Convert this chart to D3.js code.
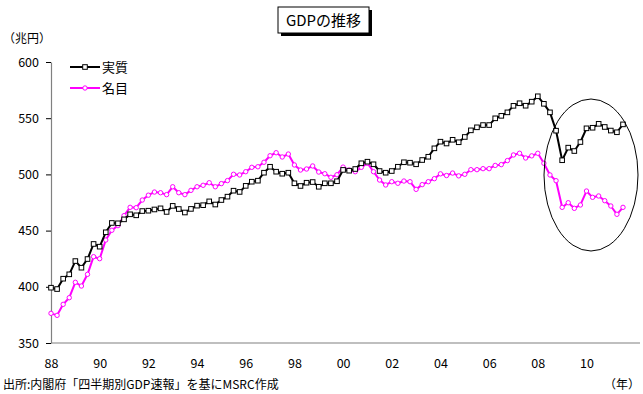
<!DOCTYPE html>
<html>
<head>
<meta charset="utf-8">
<script src="https://cdn.jsdelivr.net/npm/d3@7"></script>
<style>
  html, body { margin: 0; padding: 0; background: #fff; }
  svg { display: block; }
  text { font-family: "Noto Sans CJK JP", "Noto Sans", sans-serif; fill: #000; }
</style>
</head>
<body>
<svg id="chart" width="643" height="394"></svg>
<script>
// Quarterly GDP, 1988 Q1 – 2011 Q3 (trillion yen, seasonally adjusted annual rate)
const years = d3.range(1988, 2012);
const quarters = years.flatMap(y => [1, 2, 3, 4].map(q => `${y}Q${q}`)).slice(0, 95);

const realGDP = [
  399.2, 398.0, 407.2, 411.1, 422.9, 417.0, 424.7, 438.1,
  435.7, 448.5, 456.8, 456.5, 460.0, 464.5, 463.6, 467.4,
  467.7, 468.8, 469.8, 466.6, 472.0, 469.2, 466.1, 469.3,
  472.2, 472.6, 476.0, 473.2, 477.2, 480.2, 485.5, 484.4,
  489.8, 493.5, 494.4, 501.5, 506.8, 502.4, 500.6, 501.5,
  492.1, 489.7, 492.6, 493.2, 489.0, 492.1, 492.1, 493.9,
  504.0, 503.3, 504.8, 509.9, 511.3, 509.0, 503.0, 501.5,
  503.0, 506.8, 510.8, 510.4, 509.0, 512.8, 515.7, 523.2,
  529.1, 527.5, 530.8, 528.6, 533.3, 539.2, 541.9, 543.9,
  543.9, 549.9, 552.1, 555.2, 561.0, 563.3, 561.1, 564.7,
  569.5, 562.8, 555.2, 538.9, 512.6, 523.8, 520.8, 528.8,
  541.0, 541.5, 545.0, 542.2, 539.0, 537.5, 544.5
];

const nominalGDP = [
  376.4, 374.6, 384.4, 390.3, 404.0, 400.7, 411.1, 426.8,
  425.0, 441.6, 450.3, 454.4, 463.3, 470.7, 470.4, 477.2,
  481.5, 484.3, 483.7, 482.0, 489.0, 483.7, 482.0, 485.8,
  489.0, 490.3, 492.6, 489.0, 491.8, 494.5, 500.1, 499.5,
  502.4, 506.3, 506.8, 510.8, 516.6, 519.3, 515.5, 518.1,
  508.4, 503.9, 504.8, 507.5, 502.1, 500.6, 497.4, 499.7,
  506.5, 503.9, 502.4, 506.3, 509.9, 502.4, 495.0, 490.6,
  493.5, 492.1, 494.1, 493.5, 486.7, 490.9, 493.5, 496.2,
  500.5, 499.0, 501.2, 498.7, 500.1, 504.2, 504.2, 505.1,
  505.1, 508.0, 508.7, 512.3, 517.3, 518.8, 514.6, 516.5,
  518.8, 509.9, 499.5, 494.4, 470.7, 474.8, 469.8, 472.8,
  485.2, 479.6, 480.8, 476.6, 471.9, 464.5, 470.7
];

// Year labels placed on the first quarter of every second year
const xTickQuarters = ["1988Q1", "1990Q1", "1992Q1", "1994Q1", "1996Q1", "1998Q1",
                       "2000Q1", "2002Q1", "2004Q1", "2006Q1", "2008Q1", "2010Q1"];
const xTickLabels = ["88", "90", "92", "94", "96", "98", "00", "02", "04", "06", "08", "10"];
const yTicks = [350, 400, 450, 500, 550, 600];

const seriesNames = ["実質", "名目"];
const seriesColors = ["#000000", "#ff00ff"];

const svg = d3.select("#chart");

const x = d3.scalePoint().domain(quarters).range([51, 623]);
const y = d3.scaleLinear().domain([350, 600]).range([343, 62]);

// Title box with drop shadow
const title = svg.append("g");
title.append("rect").attr("x", 281).attr("y", 10).attr("width", 91).attr("height", 26).attr("fill", "#000");
title.append("rect").attr("x", 278).attr("y", 7).attr("width", 91).attr("height", 26)
  .attr("fill", "#fff").attr("stroke", "#000").attr("stroke-width", 1);
title.append("text").attr("x", 323.5).attr("y", 26).attr("text-anchor", "middle")
  .attr("font-size", 15).text("GDPの推移");

// Unit label
svg.append("text").attr("x", 3).attr("y", 43).attr("font-size", 12).text("（兆円）");

// Y axis
const yAxis = svg.append("g").attr("transform", "translate(51,0)")
  .call(d3.axisLeft(y).tickValues(yTicks).tickSize(5).tickSizeOuter(0).tickPadding(7));
yAxis.select(".domain").attr("stroke", "#808080").attr("stroke-width", 1.2);
yAxis.selectAll(".tick line").attr("stroke", "#000");
yAxis.selectAll(".tick text").attr("font-size", 12.5).attr("font-family", "'Noto Sans CJK JP', sans-serif");

// X axis
const xAxis = svg.append("g").attr("transform", "translate(0,343)")
  .call(d3.axisBottom(x).tickValues(xTickQuarters)
    .tickFormat(q => xTickLabels[xTickQuarters.indexOf(q)])
    .tickSize(0).tickPadding(16));
xAxis.select(".domain").attr("d", "M51,0H640").attr("stroke", "#808080").attr("stroke-width", 1.2);
xAxis.selectAll(".tick text").attr("font-size", 12.5).attr("font-family", "'Noto Sans CJK JP', sans-serif");

// Series lines and markers
const lineGen = d3.line().x((d, i) => x(quarters[i])).y(d => y(d));

function drawSeries(values, color, shape) {
  svg.append("path").datum(values)
    .attr("d", lineGen).attr("fill", "none")
    .attr("stroke", color).attr("stroke-width", 2).attr("stroke-linejoin", "round");
  const g = svg.append("g");
  if (shape === "square") {
    g.selectAll("rect").data(values).join("rect")
      .attr("x", (d, i) => x(quarters[i]) - 2.3).attr("y", d => y(d) - 2.3)
      .attr("width", 4.6).attr("height", 4.6)
      .attr("fill", "#fff").attr("stroke", color).attr("stroke-width", 1);
  } else {
    g.selectAll("circle").data(values).join("circle")
      .attr("cx", (d, i) => x(quarters[i])).attr("cy", d => y(d)).attr("r", 2.2)
      .attr("fill", "#fff").attr("stroke", color).attr("stroke-width", 1);
  }
}
drawSeries(nominalGDP, seriesColors[1], "circle");
drawSeries(realGDP, seriesColors[0], "square");

// Highlight ellipse around the post-2008 period
svg.append("ellipse").attr("cx", 591).attr("cy", 175).attr("rx", 47).attr("ry", 76)
  .attr("fill", "none").attr("stroke", "#000").attr("stroke-width", 1);

// Legend
const legend = svg.append("g");
seriesNames.forEach((name, k) => {
  const ly = 67 + k * 21;
  legend.append("line").attr("x1", 70).attr("x2", 100).attr("y1", ly).attr("y2", ly)
    .attr("stroke", seriesColors[k]).attr("stroke-width", 2);
  if (k === 0) {
    legend.append("rect").attr("x", 82.7).attr("y", ly - 2.3).attr("width", 4.6).attr("height", 4.6)
      .attr("fill", "#fff").attr("stroke", seriesColors[k]);
  } else {
    legend.append("circle").attr("cx", 85).attr("cy", ly).attr("r", 2.2)
      .attr("fill", "#fff").attr("stroke", seriesColors[k]);
  }
  legend.append("text").attr("x", 102).attr("y", ly + 5).attr("font-size", 13).text(name);
});

// Source note and axis unit
svg.append("text").attr("x", 3).attr("y", 389).attr("font-size", 12)
  .text("出所:内閣府「四半期別GDP速報」を基にMSRC作成");
svg.append("text").attr("x", 640).attr("y", 389).attr("font-size", 12)
  .attr("text-anchor", "end").text("（年）");
</script>
</body>
</html>
